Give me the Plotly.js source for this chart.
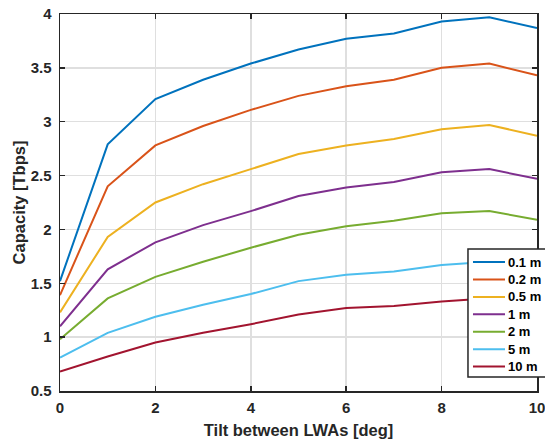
<!DOCTYPE html>
<html>
<head>
<meta charset="utf-8">
<script src="https://cdn.plot.ly/plotly-3.0.1.min.js"></script>
<style>
  html, body { margin: 0; padding: 0; background: #fff; }
  #chart { width: 545px; height: 440px; }
</style>
</head>
<body>
<div id="chart"></div>
<script>
// Tilt angle between the two leaky-wave antennas, degrees
const tilt = [0, 1, 2, 3, 4, 5, 6, 7, 8, 9, 10];

// Capacity in Tbps for each link distance
const cap_0_1m = [1.52, 2.79, 3.21, 3.39, 3.54, 3.67, 3.77, 3.82, 3.93, 3.97, 3.87];
const cap_0_2m = [1.39, 2.40, 2.78, 2.96, 3.11, 3.24, 3.33, 3.39, 3.50, 3.54, 3.43];
const cap_0_5m = [1.23, 1.93, 2.25, 2.42, 2.56, 2.70, 2.78, 2.84, 2.93, 2.97, 2.87];
const cap_1m   = [1.10, 1.63, 1.88, 2.04, 2.17, 2.31, 2.39, 2.44, 2.53, 2.56, 2.47];
const cap_2m   = [0.98, 1.36, 1.56, 1.70, 1.83, 1.95, 2.03, 2.08, 2.15, 2.17, 2.09];
const cap_5m   = [0.81, 1.04, 1.19, 1.30, 1.40, 1.52, 1.58, 1.61, 1.67, 1.70, 1.66];
const cap_10m  = [0.68, 0.82, 0.95, 1.04, 1.12, 1.21, 1.27, 1.29, 1.33, 1.36, 1.34];

const seriesNames = ['0.1 m', '0.2 m', '0.5 m', '1 m', '2 m', '5 m', '10 m'];
const seriesData = [cap_0_1m, cap_0_2m, cap_0_5m, cap_1m, cap_2m, cap_5m, cap_10m];
const seriesColors = ['#0072BD', '#D95319', '#EDB120', '#7E2F8E', '#77AC30', '#4DBEEE', '#A2142F'];

const xTicks = [0, 2, 4, 6, 8, 10];
const yTicks = [0.5, 1, 1.5, 2, 2.5, 3, 3.5, 4];

const traces = seriesData.map((vals, i) => ({
  type: 'scatter',
  mode: 'lines',
  x: tilt,
  y: vals,
  name: seriesNames[i],
  line: { color: seriesColors[i], width: 2 },
  hoverinfo: 'skip'
}));

const family = 'Liberation Sans, Arial, Helvetica, sans-serif';
const tickFont = { family: family, color: '#262626', size: 15, weight: 'bold' };
const titleFont = { family: family, color: '#262626', size: 16.5, weight: 'bold' };
const legendFont = { family: family, color: '#000000', size: 13, weight: 'bold' };

// Compact boxed key in the lower-right corner (paper coordinates).
const key = {
  left: 0.8553, right: 1.03, top: 0.3767, bottom: 0.0371,
  firstRow: 0.342, rowStep: 0.0462,
  lineX0: 0.8658, lineX1: 0.9329, textX: 0.9390
};

const keyShapes = [{
  type: 'rect', xref: 'paper', yref: 'paper', layer: 'above',
  x0: key.left, x1: key.right, y0: key.bottom, y1: key.top,
  fillcolor: '#ffffff', line: { color: '#262626', width: 1.5 }
}];
const keyLabels = [];
seriesNames.forEach((name, i) => {
  const yRow = key.firstRow - i * key.rowStep;
  keyShapes.push({
    type: 'line', xref: 'paper', yref: 'paper', layer: 'above',
    x0: key.lineX0, x1: key.lineX1, y0: yRow, y1: yRow,
    line: { color: seriesColors[i], width: 2 }
  });
  keyLabels.push({
    xref: 'paper', yref: 'paper', x: key.textX, y: yRow,
    xanchor: 'left', yanchor: 'middle', showarrow: false,
    borderpad: 0, borderwidth: 0,
    text: name, font: legendFont
  });
});

const axisCommon = {
  showline: true,
  linecolor: '#262626',
  linewidth: 1.5,
  mirror: 'ticks',
  ticks: 'inside',
  ticklen: 5,
  tickwidth: 1.5,
  tickcolor: '#262626',
  showgrid: true,
  gridcolor: '#dfdfdf',
  gridwidth: 1.5,
  zeroline: false,
  ticklabeloverflow: 'allow',
  tickfont: tickFont
};

const layout = {
  width: 545,
  height: 440,
  margin: { l: 60, r: 8, t: 14, b: 49, autoexpand: false },
  paper_bgcolor: '#ffffff',
  plot_bgcolor: '#ffffff',
  font: tickFont,
  showlegend: false,
  xaxis: Object.assign({}, axisCommon, {
    range: [0, 10],
    tickvals: xTicks,
    ticktext: xTicks.map(String),
    ticklabelstandoff: 2,
    title: { text: 'Tilt between LWAs [deg]', font: titleFont, standoff: 10 }
  }),
  yaxis: Object.assign({}, axisCommon, {
    range: [0.5, 4],
    tickvals: yTicks,
    ticktext: yTicks.map(String),
    ticklabelstandoff: 4,
    title: { text: 'Capacity [Tbps]', font: titleFont, standoff: 1 }
  }),
  shapes: keyShapes,
  annotations: keyLabels
};

Plotly.newPlot('chart', traces, layout, { displayModeBar: false, staticPlot: true });
</script>
</body>
</html>
